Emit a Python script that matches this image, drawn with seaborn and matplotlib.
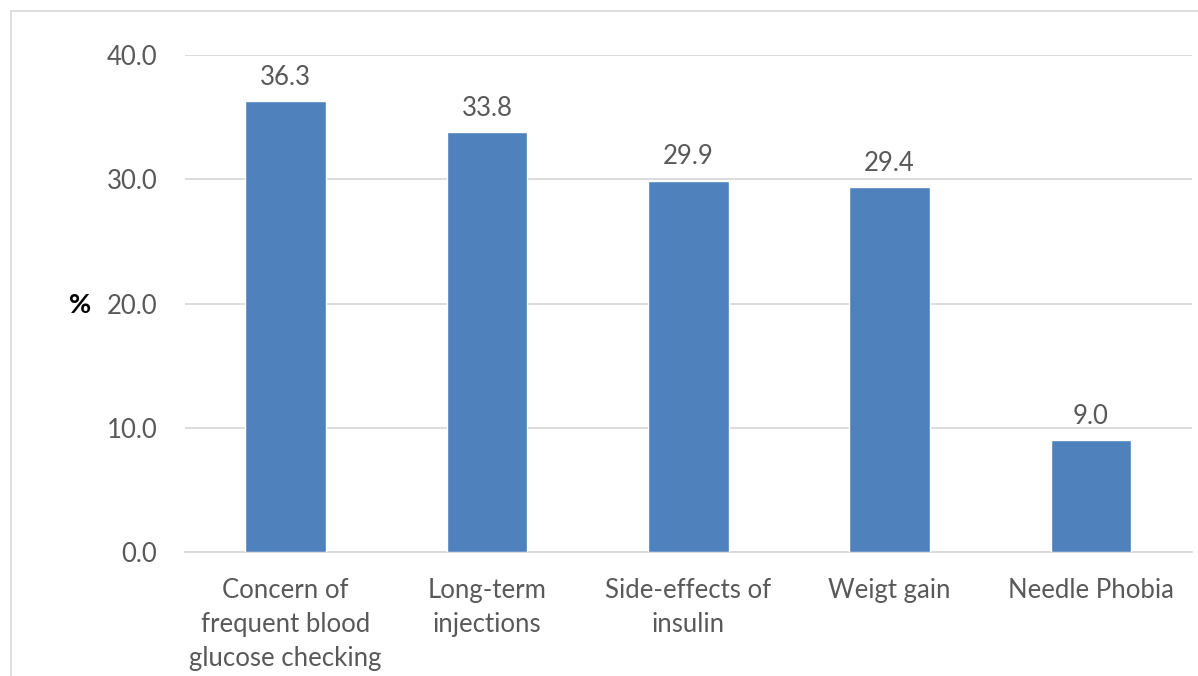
import matplotlib
matplotlib.use("Agg")
import matplotlib.pyplot as plt
import pandas as pd
import seaborn as sns
from matplotlib.lines import Line2D

categories = [
    "Concern of\nfrequent blood\nglucose checking",
    "Long-term\ninjections",
    "Side-effects of\ninsulin",
    "Weigt gain",
    "Needle Phobia",
]
percentages = [36.3, 33.8, 29.9, 29.4, 9.0]
y_ticks = [0, 10, 20, 30, 40]

BAR_COLOR = "#4F81BD"
TEXT_COLOR = "#595959"
GRID_COLOR = "#D9D9D9"
FONT_SIZE = 18.5

sns.set_theme(style="white")
plt.rcParams["font.family"] = ["Lato", "DejaVu Sans"]

df = pd.DataFrame({"category": categories, "pct": percentages})

fig = plt.figure(figsize=(11.98, 6.76), dpi=100)
ax = fig.add_axes([0.1544, 0.1834, 0.8402, 0.7352])

sns.barplot(data=df, x="category", y="pct", color=BAR_COLOR, width=0.4,
            saturation=1, ax=ax, zorder=3)

ax.set_ylim(0, 40)
ax.set_yticks(y_ticks)
ax.set_yticklabels([f"{v:.1f}" for v in y_ticks])
ax.yaxis.grid(True, color=GRID_COLOR, linewidth=1.3, zorder=0)
ax.set_axisbelow(True)
for side in ["top", "right", "left"]:
    ax.spines[side].set_visible(False)
ax.spines["bottom"].set_color(GRID_COLOR)
ax.spines["bottom"].set_linewidth(1.3)

ax.tick_params(axis="both", length=0, labelsize=FONT_SIZE, labelcolor=TEXT_COLOR)
ax.tick_params(axis="y", pad=20)
ax.tick_params(axis="x", pad=19)
for lbl in ax.get_xticklabels():
    lbl.set_linespacing(1.45)
ax.set_xlabel("")
ax.set_ylabel("")

for container in ax.containers:
    ax.bar_label(container, fmt="%.1f", padding=8, fontsize=FONT_SIZE, color=TEXT_COLOR)

fig.text(80 / 1198, 1 - 305 / 676, "%", fontsize=FONT_SIZE + 1, fontweight="bold",
         color="black", ha="center", va="center")

# chart frame (top and left edges visible in the reference)
fig.add_artist(Line2D([11 / 1198, 11 / 1198], [0, 1 - 11 / 676],
                      transform=fig.transFigure, color=GRID_COLOR, linewidth=1.2))
fig.add_artist(Line2D([11 / 1198, 1], [1 - 11 / 676, 1 - 11 / 676],
                      transform=fig.transFigure, color=GRID_COLOR, linewidth=1.2))

fig.savefig("out.png", dpi=100, facecolor="white")
plt.close(fig)
